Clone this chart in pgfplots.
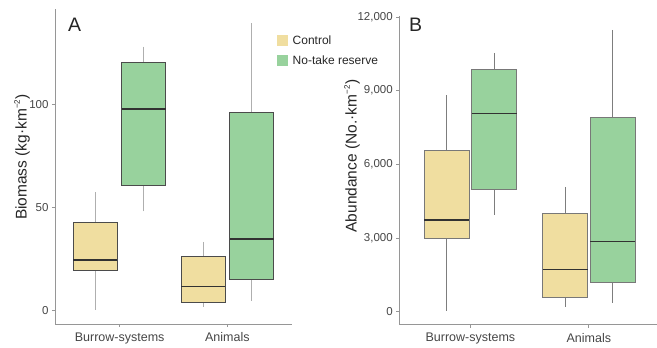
\documentclass[border=0pt]{standalone}
\usepackage{pgfplots}
\pgfplotsset{compat=1.18}
\usepgfplotslibrary{statistics}
\usepackage{fontspec}
\setmainfont{Liberation Sans}
\definecolor{ctrl}{RGB}{240,222,160}
\definecolor{ntr}{RGB}{152,210,157}
\definecolor{medcol}{RGB}{50,50,50}
\definecolor{axisgray}{RGB}{150,150,150}
\definecolor{ticktext}{RGB}{70,70,70}
\definecolor{boxA}{RGB}{75,75,75}
\definecolor{whiskA}{RGB}{175,175,175}
\definecolor{boxB}{RGB}{120,120,120}
\definecolor{whiskB}{RGB}{125,125,125}
\newcommand\sq{\textsuperscript{\raisebox{0.25ex}{\fontsize{8}{8}\selectfont −2}}}
\def\bw{0.4}
% fill colour, box colour, whisker colour, draw position, lower whisker, Q1, median, Q3, upper whisker
\newcommand\bp[9]{\addplot[forget plot, fill=#1, draw=#2, line width=1pt,
  boxplot prepared={draw direction=y, draw position=#4, box extend=\bw, lower whisker=#5,
    lower quartile=#6, median=#7, upper quartile=#8, upper whisker=#9,
    whisker extend=0,
    every whisker/.style={draw=#3, line width=0.9pt},
    every median/.style={draw=medcol, line width=1.4pt}}] coordinates {};}
\pgfplotsset{
  panel/.style={
    anchor=south west, scale only axis,
    xmin=0.4,
    axis x line*=bottom, axis y line*=left,
    axis line style={-, draw=axisgray, line width=0.9pt},
    xtick={1,2}, xticklabels={Burrow-systems,Animals},
    tick align=outside, major tick length=3pt,
    tick style={draw=axisgray, line width=0.8pt},
    xticklabel style={font=\fontsize{12.5}{14}\selectfont, text=ticktext, yshift=-2pt},
    yticklabel style={font=\fontsize{11.5}{13}\selectfont, text=ticktext},
    /pgf/number format/assume math mode=true,
    scaled y ticks=false,
    clip=false,
  }
}
\begin{document}
\begin{tikzpicture}
\useasboundingbox (0pt,0pt) rectangle (657pt,348pt);
% Panel A
\def\bw{0.41}
\begin{axis}[panel, at={(55pt,24pt)}, width=237pt, height=315pt,
  xmax=2.6, ymin=-6.7, ymax=146.6, ytick={0,50,100},
  every axis y label/.style={at={(axis description cs:-0.139,0.53)}, rotate=90, anchor=center,
    font=\fontsize{15.5}{17}\selectfont, text=black!85},
  ylabel={Biomass (kg·km\sq)},
  legend style={at={(axis description cs:0.935,0.92)}, anchor=north west,
    draw=none, fill=none, inner sep=0pt, row sep=8pt,
    font=\fontsize{12}{14}\selectfont, nodes={inner sep=1pt, text=black!85}},
  legend cell align=left]
\bp{ctrl}{boxA}{whiskA}{0.775}{0.3}{19.5}{24.5}{42.5}{57.3}
\bp{ntr}{boxA}{whiskA}{1.225}{48.1}{60.7}{97.9}{120.6}{128.3}
\bp{ctrl}{boxA}{whiskA}{1.775}{1.6}{3.9}{11.5}{26.1}{33.4}
\bp{ntr}{boxA}{whiskA}{2.225}{4.5}{14.9}{34.7}{96.3}{139.6}
\addlegendimage{legend image code/.code={\fill[ctrl] (0pt,-5pt) rectangle (10.5pt,5pt); \path (14.5pt,0pt);}}
\addlegendentry{Control}
\addlegendimage{legend image code/.code={\fill[ntr] (0pt,-5pt) rectangle (10.5pt,5pt); \path (14.5pt,0pt);}}
\addlegendentry{No-take reserve}
\node[anchor=base west, font=\fontsize{19.5}{20}\selectfont, inner sep=0pt, text=black!85] at (axis description cs:0.055,0.930) {A};
\end{axis}
% Panel B
\def\bw{0.38}
\begin{axis}[panel, at={(399.3pt,23.2pt)}, width=257.7pt, height=308.9pt,
  xmax=2.575, ymin=-532, ymax=12043, ytick={0,3000,6000,9000,12000},
  yticklabels={0,{3,000},{6,000},{9,000},{12,000}},
  every axis y label/.style={at={(axis description cs:-0.1835,0.546)}, rotate=90, anchor=center,
    font=\fontsize{15.5}{17}\selectfont, text=black!85},
  ylabel={Abundance (No.·km\sq)}]
\bp{ctrl}{boxB}{whiskB}{0.8}{40}{2989}{3734}{6555}{8824}
\bp{ntr}{boxB}{whiskB}{1.2}{3938}{4996}{8078}{9873}{10535}
\bp{ctrl}{boxB}{whiskB}{1.8}{204}{599}{1726}{3991}{5090}
\bp{ntr}{boxB}{whiskB}{2.2}{366}{1197}{2850}{7900}{11471}
\node[anchor=base west, font=\fontsize{19.5}{20}\selectfont, inner sep=0pt, text=black!85] at (axis description cs:0.0376,0.949) {B};
\end{axis}
\end{tikzpicture}
\end{document}
